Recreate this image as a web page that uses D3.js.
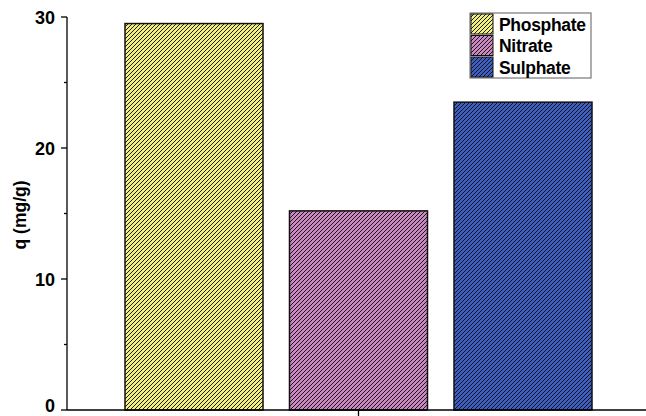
<!DOCTYPE html>
<html>
<head>
<meta charset="utf-8">
<script src="https://cdn.jsdelivr.net/npm/d3@7"></script>
<style>
  html, body { margin: 0; padding: 0; background: #fff; }
  svg { display: block; font-family: "Liberation Sans", Arial, sans-serif; }
</style>
</head>
<body>
<svg id="chart" width="646" height="416"></svg>
<script>
// Adsorption capacity by anion
const series = ["Phosphate", "Nitrate", "Sulphate"];
const values = [29.5, 15.2, 23.5];
const fills = ["#f2ee80", "#cc88c0", "#3f5ec2"];
const majorTicks = [0, 10, 20, 30];
const minorTicks = [5, 15, 25];
const yLabel = "q (mg/g)";

const svg = d3.select("#chart");
const axisX = 67, baseY = 410;

const y = d3.scaleLinear().domain([0, 30]).range([baseY, 17]);
const x = d3.scaleBand().domain(series).range([125, 592]).paddingInner(0.161).paddingOuter(0);

// Diagonal hatch patterns, one per series colour
const defs = svg.append("defs");
series.forEach((s, i) => {
  const p = defs.append("pattern")
    .attr("id", "hatch" + i)
    .attr("patternUnits", "userSpaceOnUse")
    .attr("width", 4).attr("height", 4);
  p.append("rect").attr("width", 4).attr("height", 4).attr("fill", fills[i]);
  p.append("path")
    .attr("d", "M-1,1 L1,-1 M0,4 L4,0 M3,5 L5,3")
    .attr("stroke", "#111").attr("stroke-width", 0.95);
});

// Bars
svg.append("g").selectAll("rect")
  .data(series)
  .join("rect")
  .attr("x", d => x(d))
  .attr("y", (d, i) => y(values[i]))
  .attr("width", x.bandwidth())
  .attr("height", (d, i) => baseY - y(values[i]))
  .attr("fill", (d, i) => `url(#hatch${i})`)
  .attr("stroke", "#111")
  .attr("stroke-width", 1.5);

// Y axis
const yAxis = svg.append("g").attr("transform", `translate(${axisX},0)`);
yAxis.append("line").attr("y1", y(30)).attr("y2", baseY).attr("stroke", "#000").attr("stroke-width", 1.3);
yAxis.selectAll(".maj").data(majorTicks).join("line")
  .attr("x1", -6).attr("x2", 0).attr("y1", d => y(d)).attr("y2", d => y(d))
  .attr("stroke", "#000").attr("stroke-width", 1.3);
yAxis.selectAll(".min").data(minorTicks).join("line")
  .attr("x1", -3).attr("x2", 0).attr("y1", d => y(d)).attr("y2", d => y(d))
  .attr("stroke", "#000").attr("stroke-width", 1.3);
yAxis.selectAll("text").data(majorTicks).join("text")
  .attr("x", -12).attr("y", d => Math.min(y(d) + 6.5, 412))
  .attr("text-anchor", "end")
  .attr("font-size", 18).attr("font-weight", "bold")
  .text(d => d);

// X axis
svg.append("line").attr("x1", axisX).attr("x2", 646).attr("y1", baseY).attr("y2", baseY)
  .attr("stroke", "#000").attr("stroke-width", 1.3);
const midX = x(series[1]) + x.bandwidth() / 2;
svg.append("line").attr("x1", midX).attr("x2", midX).attr("y1", baseY).attr("y2", baseY + 6)
  .attr("stroke", "#000").attr("stroke-width", 1.3);

// Y axis title
svg.append("text")
  .attr("transform", "translate(26,215) rotate(-90)")
  .attr("text-anchor", "middle")
  .attr("font-size", 17.5).attr("font-weight", "bold")
  .text(yLabel);

// Legend
const lg = svg.append("g");
lg.append("rect").attr("x", 470).attr("y", 13).attr("width", 121).attr("height", 65)
  .attr("fill", "#fff").attr("stroke", "#777").attr("stroke-width", 1.2);
series.forEach((s, i) => {
  const top = 14 + i * 21.5;
  lg.append("rect").attr("x", 471).attr("y", top).attr("width", 22).attr("height", 20)
    .attr("fill", `url(#hatch${i})`).attr("stroke", "#111").attr("stroke-width", 1);
  lg.append("text").attr("x", 499).attr("y", top + 16.5)
    .attr("font-size", 17.5).attr("font-weight", "bold")
    .attr("letter-spacing", -0.3)
    .text(s);
});
</script>
</body>
</html>
